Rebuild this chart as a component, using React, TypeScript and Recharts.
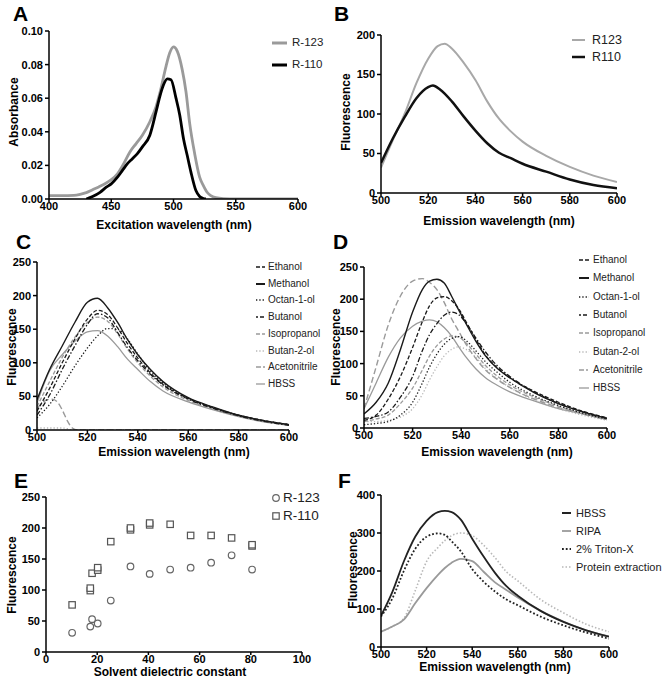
import React from 'react';
import { LineChart, Line, XAxis, YAxis, ScatterChart, Scatter } from 'recharts';

// ---------- Panel A: absorbance ----------
const aX123 = [400, 410, 420, 425, 430, 435, 440, 446, 450, 455, 460, 465, 470, 475, 481, 486, 489, 494, 497, 500, 503, 507, 510, 513, 517, 521, 524, 527, 530, 534, 540, 550, 575, 600];
const aY123 = [0.002, 0.002, 0.0022, 0.0028, 0.0038, 0.0055, 0.0072, 0.0095, 0.0115, 0.015, 0.021, 0.028, 0.033, 0.038, 0.046, 0.055, 0.063, 0.079, 0.087, 0.0905, 0.088, 0.077, 0.064, 0.045, 0.027, 0.013, 0.008, 0.004, 0.002, 0.0008, 0.0002, 0, 0, 0];
const aX110 = [430, 435, 441, 446, 450, 455, 459, 463, 467, 471, 475, 481, 486, 489, 492, 495, 498, 502, 505, 508, 511, 514, 518, 521, 524, 526];
const aY110 = [0, 0.0015, 0.004, 0.007, 0.009, 0.013, 0.017, 0.021, 0.024, 0.027, 0.031, 0.038, 0.052, 0.061, 0.068, 0.0715, 0.071, 0.06, 0.05, 0.036, 0.026, 0.016, 0.005, 0.0015, 0.0003, 0];
const aXTicks = [400, 450, 500, 550, 600];
const aYTicks = [0, 0.02, 0.04, 0.06, 0.08, 0.1];

// ---------- Panel B ----------
const bX123 = [500, 505, 510, 515, 520, 524, 527, 530, 535, 540, 545, 550, 555, 560, 570, 580, 590, 600];
const bY123 = [32, 67, 100, 139, 170, 186, 189, 183, 165, 143, 116, 94, 78, 65, 47, 33, 22, 14];
const bX110 = [500, 505, 510, 515, 520, 522, 525, 530, 535, 540, 545, 550, 555, 560, 570, 580, 590, 600];
const bY110 = [38, 69, 96, 120, 134, 136, 131, 116, 97, 79, 63, 51, 44, 37, 27, 17, 10, 6];

const emTicks = [500, 520, 540, 560, 580, 600];
const fl250Ticks = [0, 50, 100, 150, 200, 250];

// ---------- Panel C ----------
const cX = [500, 505, 510, 515, 520, 524, 528, 532, 536, 540, 545, 550, 560, 570, 580, 590, 600];
const cEthanol = [28, 62, 100, 135, 165, 178, 172, 152, 128, 107, 85, 68, 47, 33, 22, 14, 8];
const cMethanol = [45, 90, 125, 160, 190, 196, 182, 160, 134, 112, 90, 72, 48, 34, 22, 14, 8];
const cOctanol = [18, 38, 65, 95, 122, 140, 151, 150, 135, 113, 88, 70, 47, 33, 22, 14, 8];
const cButanol = [22, 52, 90, 125, 157, 173, 167, 145, 122, 103, 83, 67, 46, 32, 21, 13, 7];
const cIsopropanol = [35, 72, 108, 138, 160, 168, 162, 143, 120, 100, 80, 64, 44, 31, 21, 13, 7];
const cHBSS = [40, 88, 112, 132, 146, 148, 140, 124, 105, 90, 72, 58, 42, 30, 20, 12, 7];
const cXButan2ol = [500, 505, 510, 512, 514, 600];
const cButan2ol = [3, 3, 3, 2, 0, 0];
const cXAcetonitrile = [500, 502, 504, 506, 508, 510, 512, 514, 516, 520, 540, 560, 580, 600];
const cAcetonitrile = [32, 40, 45, 46, 42, 30, 14, 3, 0, 0, 0, 0, 0, 0];

// ---------- Panel D ----------
const dX = [500, 505, 510, 515, 520, 524, 527, 530, 533, 536, 539, 542, 546, 550, 555, 560, 570, 580, 590, 600];
const dEthanol = [12, 20, 45, 80, 125, 165, 190, 202, 204, 198, 185, 165, 138, 113, 93, 78, 57, 40, 26, 16];
const dMethanol = [22, 40, 70, 122, 180, 215, 228, 231, 225, 205, 183, 162, 135, 112, 92, 78, 55, 38, 25, 15];
const dOctanol = [5, 7, 10, 20, 40, 70, 95, 115, 130, 139, 142, 136, 120, 103, 86, 71, 50, 35, 23, 14];
const dButanol = [15, 18, 25, 48, 80, 120, 145, 162, 175, 180, 176, 163, 140, 118, 96, 80, 56, 38, 25, 15];
const dIsopropanol = [10, 14, 20, 38, 62, 90, 112, 128, 138, 143, 141, 132, 115, 97, 80, 67, 48, 34, 22, 13];
const dButan2ol = [10, 10, 12, 17, 30, 52, 75, 95, 112, 122, 126, 122, 110, 92, 76, 63, 44, 30, 20, 12];
const dAcetonitrile = [30, 95, 160, 205, 228, 232, 226, 215, 195, 170, 150, 130, 108, 90, 75, 63, 45, 32, 22, 14];
const dHBSS = [30, 70, 110, 140, 158, 166, 168, 165, 156, 143, 126, 110, 92, 78, 66, 56, 42, 30, 22, 13];

// ---------- Panel E ----------
const eX123 = [10.2, 17.3, 18, 20.2, 25.3, 33, 40.5, 48.5, 56.5, 64.5, 72.5, 80.5];
const eY123 = [31, 41, 53, 46, 83, 138, 126, 133, 136, 144, 156, 133];
const eX110 = [10.2, 17.3, 17.3, 18, 20.2, 20.2, 25.3, 33, 33, 40.5, 40.5, 48.5, 56.5, 64.5, 72.5, 80.5, 80.5];
const eY110 = [76, 99, 103, 127, 132, 136, 178, 197, 200, 205, 208, 206, 188, 188, 184, 171, 173];
const eXTicks = [0, 20, 40, 60, 80, 100];

// ---------- Panel F ----------
const fX = [500, 505, 510, 515, 520, 525, 528, 531, 535, 540, 545, 550, 555, 560, 570, 580, 590, 600];
const fHBSS = [82, 145, 225, 290, 332, 355, 358, 355, 335, 285, 238, 195, 160, 135, 95, 66, 44, 27];
const fRIPA = [40, 54, 72, 115, 155, 190, 208, 222, 232, 226, 198, 170, 150, 130, 95, 67, 44, 28];
const fTriton = [80, 128, 200, 258, 290, 299, 295, 278, 252, 205, 172, 146, 125, 110, 80, 57, 38, 22];
const fProtein = [40, 54, 75, 148, 225, 262, 280, 293, 300, 293, 268, 235, 198, 174, 125, 90, 60, 40];
const fYTicks = [0, 100, 200, 300, 400];

const zip = (xs: number[], ys: number[]) => xs.map((x, i) => ({ x, y: ys[i] }));

const FONT = '"Liberation Sans", Arial, sans-serif';
const BLACK = '#1a1a1a';
const GRAY = '#9a9a9a';
const LIGHT = '#b8b8b8';

type S = { data: { x: number; y: number }[]; color: string; width: number; dash?: string };

const axisProps = {
  axisLine: { stroke: '#000', strokeWidth: 1.5 },
  tickLine: { stroke: '#000', strokeWidth: 1.5 },
  tickSize: 4,
  tick: { fill: '#000', fontSize: 11, fontWeight: 'bold', fontFamily: FONT },
};
const xAxisProps = { ...axisProps, tickSize: 3, tickMargin: 0 };

function LinePanel(p: {
  l: number; t: number; r: number; b: number;
  xDomain: number[]; xTicks: number[]; yDomain: number[]; yTicks: number[];
  yFmt?: (v: number) => string; series: S[];
}) {
  const ML = 50, MT = 10, MR = 14, MB = 24;
  const w = p.r - p.l, h = p.b - p.t;
  return (
    <div style={{ position: 'absolute', left: p.l - ML, top: p.t - MT }}>
      <LineChart width={w + ML + MR} height={h + MT + MB} margin={{ top: MT, right: MR, bottom: 0, left: 0 }}>
        <XAxis type="number" dataKey="x" domain={p.xDomain} ticks={p.xTicks} allowDataOverflow height={MB} {...xAxisProps} />
        <YAxis type="number" dataKey="y" domain={p.yDomain} ticks={p.yTicks} allowDataOverflow width={ML} tickFormatter={p.yFmt} {...axisProps} />
        {p.series.map((s, i) => (
          <Line key={i} data={s.data} dataKey="y" type="monotone" stroke={s.color} strokeWidth={s.width}
            strokeDasharray={s.dash} dot={false} activeDot={false} isAnimationActive={false} />
        ))}
      </LineChart>
    </div>
  );
}

function Txt(p: { x: number; y: number; text: string; size: number; bold?: boolean; rot?: boolean; family?: string }) {
  return (
    <div style={{
      position: 'absolute', left: p.x, top: p.y, whiteSpace: 'nowrap',
      transform: `translate(-50%,-50%)${p.rot ? ' rotate(-90deg)' : ''}`,
      fontFamily: p.family || FONT, fontSize: p.size, fontWeight: p.bold ? 'bold' : 'normal', color: '#000', lineHeight: 1,
    }}>{p.text}</div>
  );
}

// baseline-positioned panel letter
function Letter(p: { x: number; base: number; text: string }) {
  return (
    <div style={{ position: 'absolute', left: p.x, top: p.base - 19, fontFamily: FONT, fontWeight: 'bold', fontSize: 21, lineHeight: '24px', color: '#000' }}>{p.text}</div>
  );
}

type LItem = { label: string; color: string; width: number; dash?: string };
function LineLegend(p: { x0: number; x1: number; tx: number; y: number; dy: number; size: number; items: LItem[] }) {
  return (
    <>
      {p.items.map((it, i) => {
        const cy = p.y + i * p.dy;
        return (
          <React.Fragment key={i}>
            <svg style={{ position: 'absolute', left: p.x0, top: cy - 4 }} width={p.x1 - p.x0} height={8}>
              <line x1={0} y1={4} x2={p.x1 - p.x0} y2={4} stroke={it.color} strokeWidth={it.width} strokeDasharray={it.dash} />
            </svg>
            <div style={{ position: 'absolute', left: p.tx, top: cy, transform: 'translateY(-50%)', fontFamily: FONT, fontSize: p.size, color: '#222', whiteSpace: 'nowrap', lineHeight: 1 }}>{it.label}</div>
          </React.Fragment>
        );
      })}
    </>
  );
}

const solventStyles = {
  Ethanol: { color: BLACK, width: 1.3, dash: '4 2' },
  Methanol: { color: BLACK, width: 1.4, dash: undefined },
  Octanol: { color: BLACK, width: 1.3, dash: '1.3 2' },
  Butanol: { color: BLACK, width: 1.3, dash: '5 2 1.5 2' },
  Isopropanol: { color: GRAY, width: 1.3, dash: '4 2' },
  Butan2ol: { color: LIGHT, width: 1.3, dash: '1.3 2' },
  Acetonitrile: { color: GRAY, width: 1.4, dash: '6 3' },
  HBSS: { color: GRAY, width: 1.3, dash: undefined },
};

const solventLegend: LItem[] = [
  { label: 'Ethanol', ...solventStyles.Ethanol },
  { label: 'Methanol', ...solventStyles.Methanol, width: 2 },
  { label: 'Octan-1-ol', ...solventStyles.Octanol },
  { label: 'Butanol', ...solventStyles.Butanol, dash: '2 2 4 2' },
  { label: 'Isopropanol', ...solventStyles.Isopropanol },
  { label: 'Butan-2-ol', ...solventStyles.Butan2ol },
  { label: 'Acetonitrile', ...solventStyles.Acetonitrile, dash: '5 2 2 2' },
  { label: 'HBSS', ...solventStyles.HBSS },
];

export default function App() {
  const st = solventStyles;
  const cSeries: S[] = [
    { data: zip(cX, cHBSS), ...st.HBSS },
    { data: zip(cXButan2ol, cButan2ol), ...st.Butan2ol },
    { data: zip(cXAcetonitrile, cAcetonitrile), ...st.Acetonitrile },
    { data: zip(cX, cIsopropanol), ...st.Isopropanol },
    { data: zip(cX, cOctanol), ...st.Octanol },
    { data: zip(cX, cButanol), ...st.Butanol },
    { data: zip(cX, cEthanol), ...st.Ethanol },
    { data: zip(cX, cMethanol), ...st.Methanol },
  ];
  const dSeries: S[] = [
    { data: zip(dX, dHBSS), ...st.HBSS },
    { data: zip(dX, dButan2ol), ...st.Butan2ol },
    { data: zip(dX, dAcetonitrile), ...st.Acetonitrile },
    { data: zip(dX, dIsopropanol), ...st.Isopropanol },
    { data: zip(dX, dOctanol), ...st.Octanol },
    { data: zip(dX, dButanol), ...st.Butanol },
    { data: zip(dX, dEthanol), ...st.Ethanol },
    { data: zip(dX, dMethanol), ...st.Methanol },
  ];

  return (
    <div style={{ position: 'absolute', left: 0, top: 0, width: 662, height: 687, background: '#fff', overflow: 'hidden' }}>
      {/* A */}
      <LinePanel l={49} t={31} r={298} b={199} xDomain={[400, 600]} xTicks={aXTicks} yDomain={[0, 0.1]} yTicks={aYTicks}
        yFmt={(v) => v.toFixed(2)}
        series={[
          { data: zip(aX123, aY123), color: GRAY, width: 2.8 },
          { data: zip(aX110, aY110), color: '#000', width: 2.8 },
        ]} />
      <Letter x={13} base={21} text="A" />
      <Txt x={14} y={112} text="Absorbance" size={12} bold rot />
      <Txt x={174} y={225} text="Excitation wavelength (nm)" size={12} bold />
      <LineLegend x0={272} x1={287} tx={292} y={43} dy={22} size={11.5} items={[
        { label: 'R-123', color: GRAY, width: 3 },
        { label: 'R-110', color: '#000', width: 3 },
      ]} />

      {/* B */}
      <LinePanel l={381} t={35} r={617} b={193} xDomain={[500, 600]} xTicks={emTicks} yDomain={[0, 200]} yTicks={[0, 50, 100, 150, 200]}
        series={[
          { data: zip(bX123, bY123), color: '#a8a8a8', width: 2 },
          { data: zip(bX110, bY110), color: '#111', width: 2.5 },
        ]} />
      <Letter x={334} base={21} text="B" />
      <Txt x={346} y={112} text="Fluorescence" size={12} bold rot />
      <Txt x={499} y={221} text="Emission wavelength (nm)" size={12} bold />
      <LineLegend x0={572} x1={585} tx={592} y={40} dy={17} size={12.5} items={[
        { label: 'R123', color: '#a8a8a8', width: 2 },
        { label: 'R110', color: '#111', width: 2.5 },
      ]} />

      {/* C */}
      <LinePanel l={37} t={262} r={289} b={430} xDomain={[500, 600]} xTicks={emTicks} yDomain={[0, 250]} yTicks={fl250Ticks}
        series={cSeries} />
      <Letter x={16} base={249} text="C" />
      <Txt x={12} y={347} text="Fluorescence" size={12} bold rot />
      <Txt x={174} y={452} text="Emission wavelength (nm)" size={12} bold />
      <LineLegend x0={256} x1={265} tx={268} y={267} dy={16.7} size={10} items={solventLegend} />

      {/* D */}
      <LinePanel l={364} t={267} r={607} b={428} xDomain={[500, 600]} xTicks={emTicks} yDomain={[0, 250]} yTicks={fl250Ticks}
        series={dSeries} />
      <Letter x={333} base={249} text="D" />
      <Txt x={336} y={347} text="Fluorescence" size={12} bold rot />
      <Txt x={497} y={452} text="Emission wavelength (nm)" size={12} bold />
      <LineLegend x0={579} x1={589} tx={593} y={260} dy={18.3} size={10} items={solventLegend} />

      {/* E */}
      <div style={{ position: 'absolute', left: 46 - 50, top: 497 - 10 }}>
        <ScatterChart width={256 + 50 + 14} height={155 + 10 + 24} margin={{ top: 10, right: 14, bottom: 0, left: 0 }}>
          <XAxis type="number" dataKey="x" domain={[0, 100]} ticks={eXTicks} height={24} {...xAxisProps} />
          <YAxis type="number" dataKey="y" domain={[0, 250]} ticks={fl250Ticks} width={50} {...axisProps} />
          <Scatter data={zip(eX123, eY123)} isAnimationActive={false}
            shape={(props: any) => <circle cx={props.cx} cy={props.cy} r={3.3} fill="#fff" stroke="#666" strokeWidth={1.2} />} />
          <Scatter data={zip(eX110, eY110)} isAnimationActive={false}
            shape={(props: any) => <rect x={props.cx - 3.2} y={props.cy - 3.2} width={6.4} height={6.4} fill="#fff" stroke="#555" strokeWidth={1.2} />} />
        </ScatterChart>
      </div>
      <Letter x={14} base={488} text="E" />
      <Txt x={12} y={575} text="Fluorescence" size={12} bold rot />
      <Txt x={170} y={672} text="Solvent dielectric constant" size={12} bold />
      <svg style={{ position: 'absolute', left: 270, top: 491 }} width={12} height={32}>
        <circle cx={6} cy={7} r={3.3} fill="#fff" stroke="#666" strokeWidth={1.2} />
        <rect x={2.8} y={21.8} width={6.4} height={6.4} fill="#fff" stroke="#555" strokeWidth={1.2} />
      </svg>
      <div style={{ position: 'absolute', left: 283, top: 498, transform: 'translateY(-50%)', fontFamily: FONT, fontSize: 13.5, color: '#222', lineHeight: 1 }}>R-123</div>
      <div style={{ position: 'absolute', left: 283, top: 516, transform: 'translateY(-50%)', fontFamily: FONT, fontSize: 13.5, color: '#222', lineHeight: 1 }}>R-110</div>

      {/* F */}
      <LinePanel l={381} t={495} r={609} b={647} xDomain={[500, 600]} xTicks={emTicks} yDomain={[0, 400]} yTicks={fYTicks}
        series={[
          { data: zip(fX, fProtein), color: LIGHT, width: 1.6, dash: '1.5 2' },
          { data: zip(fX, fRIPA), color: GRAY, width: 1.8 },
          { data: zip(fX, fTriton), color: '#222', width: 1.8, dash: '1.8 2' },
          { data: zip(fX, fHBSS), color: '#222', width: 1.8 },
        ]} />
      <Letter x={338} base={488} text="F" />
      <Txt x={353} y={570} text="Fluorescence" size={12} bold rot />
      <Txt x={495} y={667} text="Emission wavelength (nm)" size={12} bold />
      <LineLegend x0={562} x1={571} tx={576} y={513} dy={18} size={11} items={[
        { label: 'HBSS', color: '#222', width: 2 },
        { label: 'RIPA', color: GRAY, width: 1.8 },
        { label: '2% Triton-X', color: '#222', width: 1.8, dash: '1.8 2' },
        { label: 'Protein extraction', color: LIGHT, width: 1.6, dash: '1.5 2' },
      ]} />
    </div>
  );
}
